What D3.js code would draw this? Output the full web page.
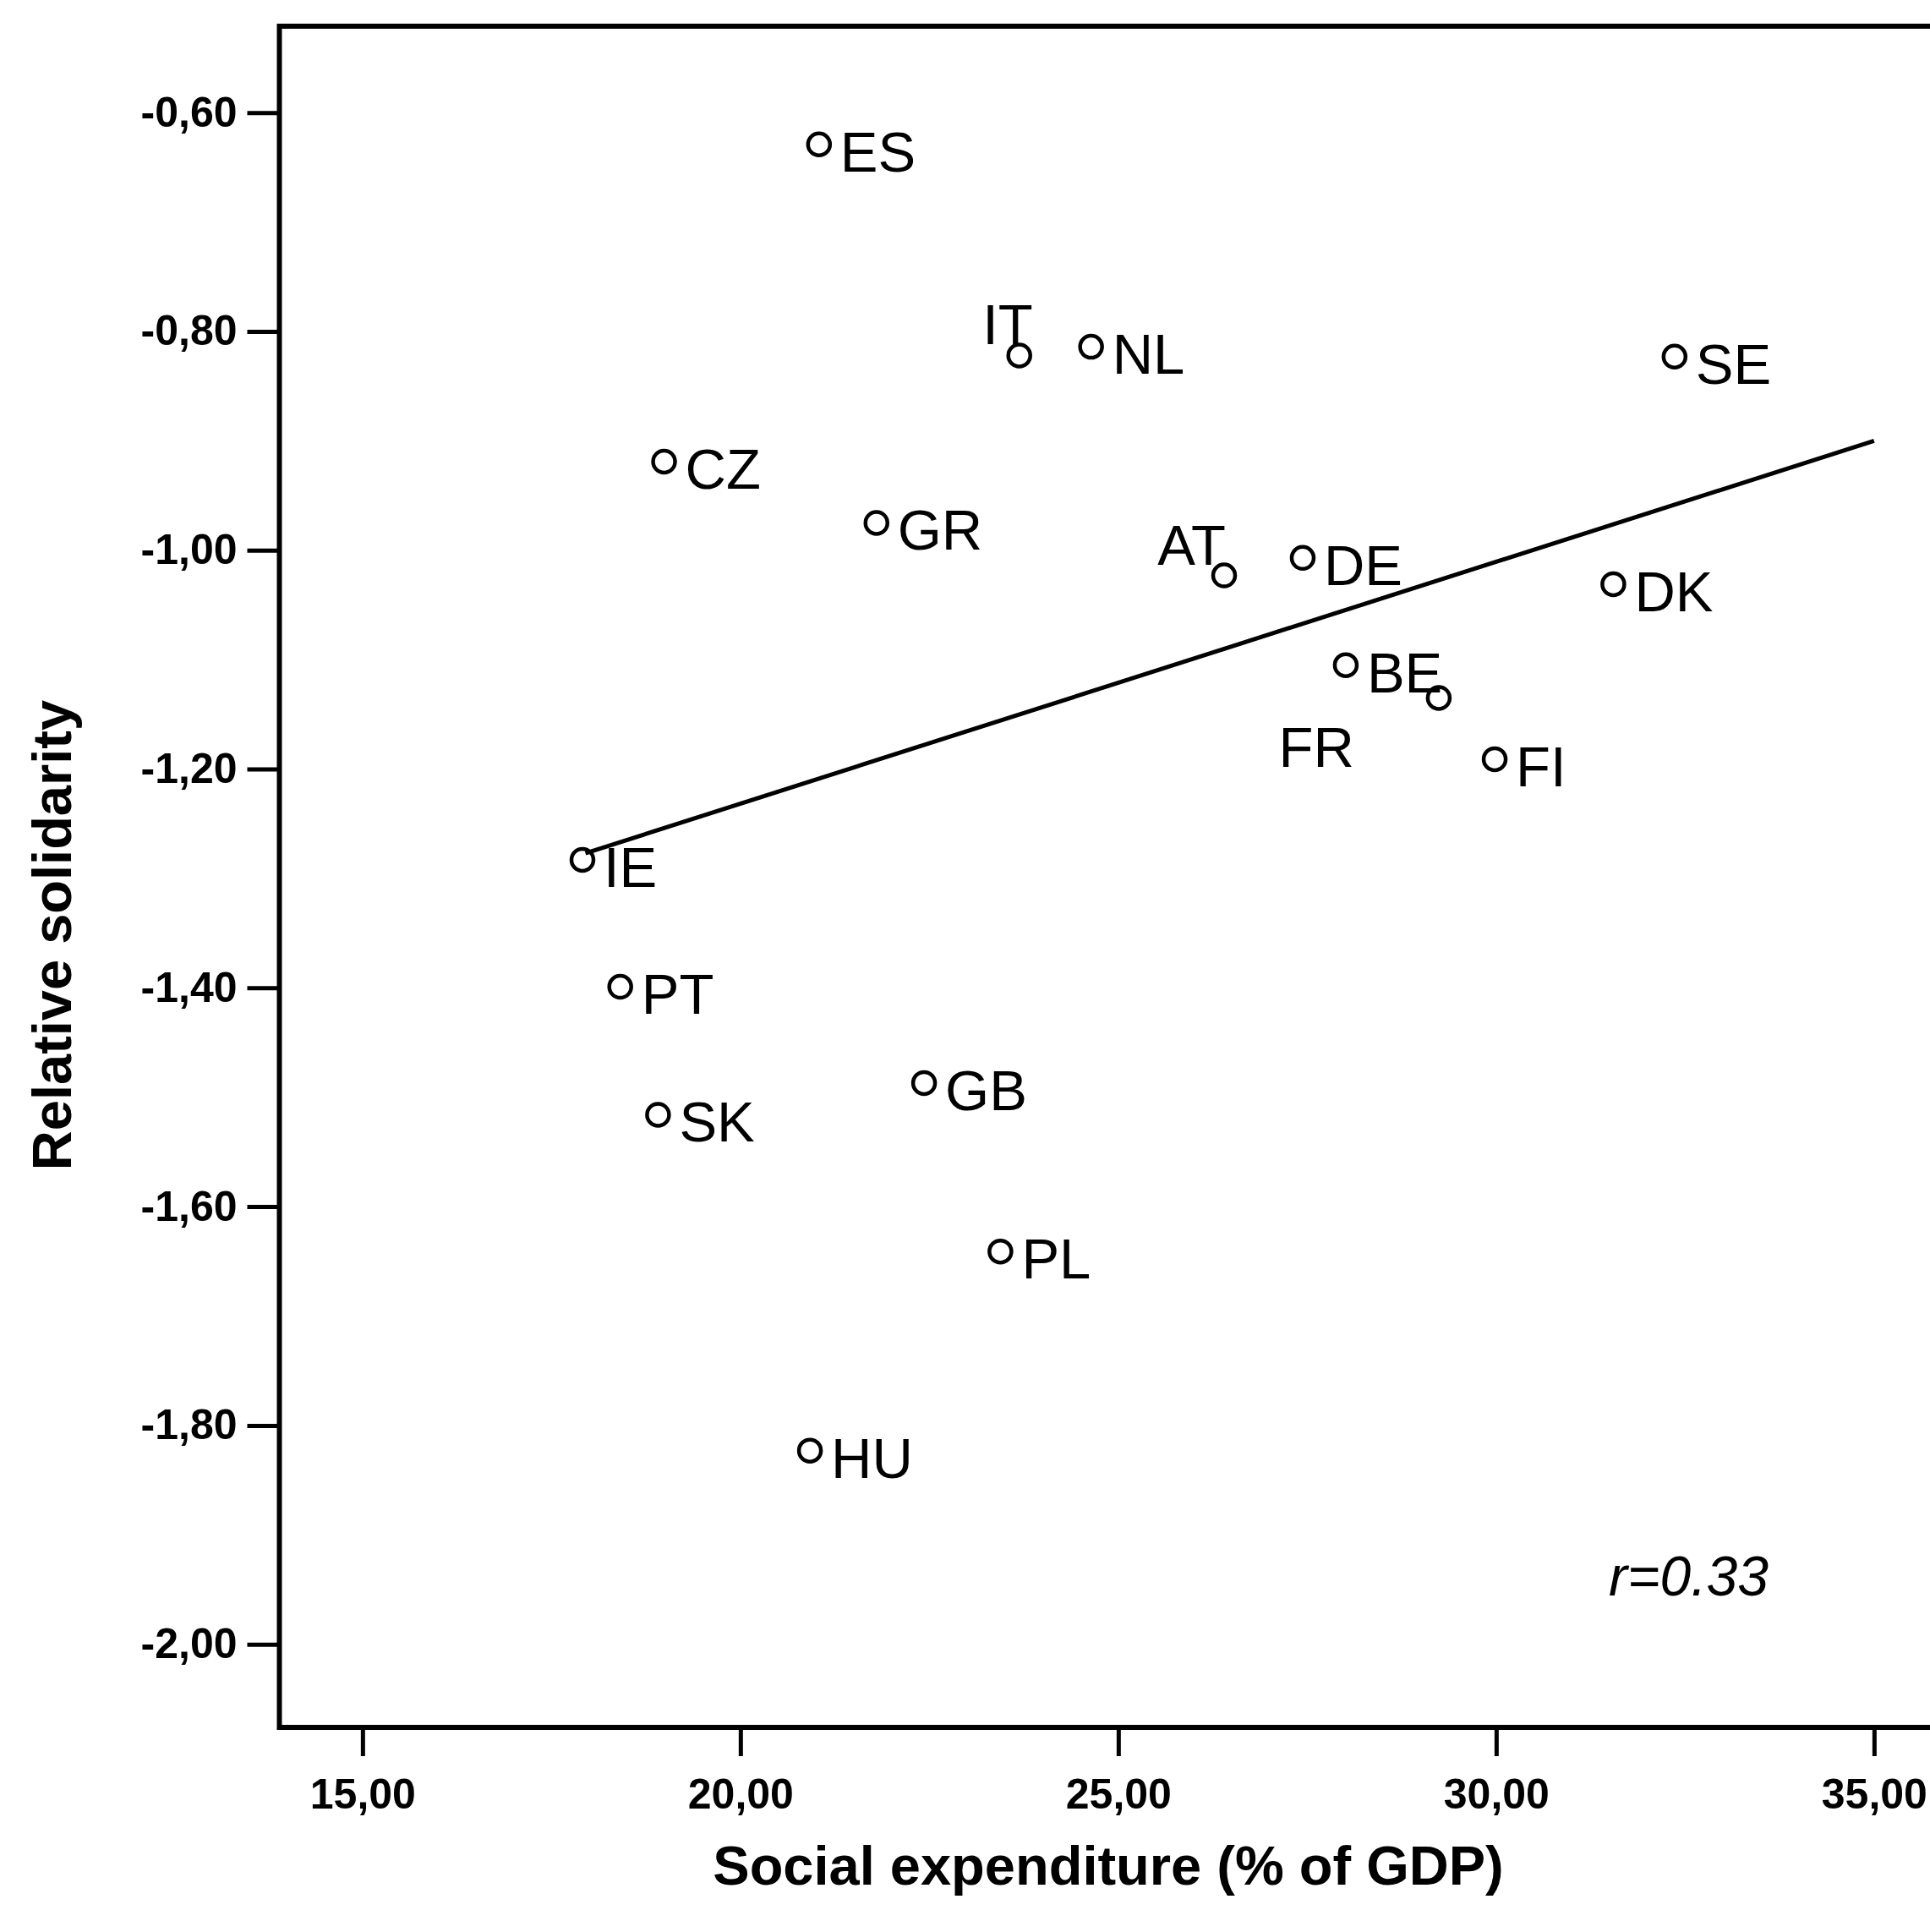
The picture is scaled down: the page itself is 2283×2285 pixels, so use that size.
<!DOCTYPE html>
<html>
<head>
<meta charset="utf-8">
<script src="https://cdn.jsdelivr.net/npm/d3@7"></script>
<style>
  body { margin: 0; background: #fff; }
  svg { display: block; }
  text { font-family: "Liberation Sans", Arial, sans-serif; fill: #000; }
  .tick text { font-weight: bold; font-size: 50px; }
</style>
</head>
<body>
<svg width="2283" height="2285"></svg>
<script>
// country codes and values
var countries = ["ES", "IT", "NL", "SE", "CZ", "GR", "AT", "DE", "DK", "BE", "FR", "FI", "IE", "PT", "SK", "GB", "PL", "HU"];
var socialExp = [21.04, 23.69, 24.64, 32.36, 18.99, 21.80, 26.40, 27.44, 31.55, 28.01, 29.24, 29.98, 17.91, 18.41, 18.91, 22.43, 23.44, 20.92];
var solidarity = [-0.629, -0.822, -0.814, -0.823, -0.919, -0.975, -1.023, -1.007, -1.031, -1.105, -1.135, -1.191, -1.283, -1.399, -1.516, -1.487, -1.641, -1.823];

var xTicks = [15, 20, 25, 30, 35];
var yTicks = [-0.6, -0.8, -1.0, -1.2, -1.4, -1.6, -1.8, -2.0];

// fit line ends
var fitX = [17.95, 35.0];
var fitY = [-1.277, -0.900];

var xTitle = "Social expenditure (% of GDP)",
    yTitle = "Relative solidarity",
    rText = "r=0.33";

var data = countries.map(function(c, i) {
    return {code: c, x: socialExp[i], y: solidarity[i]};
});

var svg = d3.select("svg");

var xDom = [13.9, 36.5], yDom = [-2.076, -0.521];
var plotLeft = 330.5, plotTop = 31, plotBottom = 2043;

var x = d3.scaleLinear()
    .domain(xDom)
    .range([plotLeft, plotLeft + (xDom[1] - xDom[0]) * 89.4]);

var y = d3.scaleLinear()
    .domain(yDom)
    .range([plotBottom, plotTop]);

var fmt = function(d) { return d.toFixed(2).replace(".", ","); };

var xAxis = d3.axisBottom(x)
    .tickValues(xTicks)
    .tickSize(34)
    .tickSizeOuter(0)
    .tickPadding(26)
    .tickFormat(fmt);

var yAxis = d3.axisLeft(y)
    .tickValues(yTicks)
    .tickSize(38)
    .tickSizeOuter(0)
    .tickPadding(12)
    .tickFormat(fmt);

var gX = svg.append("g")
    .attr("transform", "translate(0," + plotBottom + ")")
    .call(xAxis);
var gY = svg.append("g")
    .attr("transform", "translate(" + plotLeft + ",0)")
    .call(yAxis);

svg.selectAll(".domain").remove();
svg.selectAll(".tick line").attr("stroke", "#000").attr("stroke-width", 5);
svg.selectAll(".tick text").attr("fill", "#000");

// frame
svg.append("rect")
    .attr("x", x(xDom[0]))
    .attr("y", y(yDom[1]))
    .attr("width", x(xDom[1]) - x(xDom[0]))
    .attr("height", y(yDom[0]) - y(yDom[1]))
    .attr("fill", "none")
    .attr("stroke", "#000")
    .attr("stroke-width", 6);

// regression line
svg.append("path")
    .datum(fitX.map(function(v, i) { return [v, fitY[i]]; }))
    .attr("fill", "none")
    .attr("stroke", "#000")
    .attr("stroke-width", 5)
    .attr("d", d3.line()
        .x(function(d) { return x(d[0]); })
        .y(function(d) { return y(d[1]); }));

// points
svg.selectAll("circle.pt")
    .data(data)
    .join("circle")
    .attr("class", "pt")
    .attr("cx", function(d) { return x(d.x); })
    .attr("cy", function(d) { return y(d.y); })
    .attr("r", 13)
    .attr("fill", "none")
    .attr("stroke", "#000")
    .attr("stroke-width", 4.5);

// labels: most sit right of the marker, a few were pushed elsewhere
var above = ["IT", "AT"], below = ["FR"];
svg.selectAll("text.lbl")
    .data(data)
    .join("text")
    .attr("class", "lbl")
    .style("font-size", "67px")
    .attr("text-anchor", function(d) {
        return (above.indexOf(d.code) >= 0 || below.indexOf(d.code) >= 0) ? "end" : "start";
    })
    .attr("x", function(d) {
        if (d.code === "IT") return x(d.x) + 16;
        if (d.code === "AT") return x(d.x) + 2;
        if (below.indexOf(d.code) >= 0) return x(d.x) - 100;
        return x(d.x) + 25;
    })
    .attr("y", function(d) {
        if (above.indexOf(d.code) >= 0) return y(d.y) - 13;
        if (below.indexOf(d.code) >= 0) return y(d.y) + 82;
        return y(d.y) + 32;
    })
    .text(function(d) { return d.code; });

// titles
svg.append("text")
    .attr("x", 1311)
    .attr("y", 2229)
    .attr("text-anchor", "middle")
    .style("font-weight", "bold")
    .style("font-size", "65px")
    .text(xTitle);

svg.append("text")
    .attr("transform", "translate(84,1106) rotate(-90)")
    .attr("text-anchor", "middle")
    .style("font-weight", "bold")
    .style("font-size", "65px")
    .text(yTitle);

svg.append("text")
    .attr("x", 1903)
    .attr("y", 1887)
    .style("font-style", "italic")
    .style("font-size", "66px")
    .text(rText);
</script>
</body>
</html>
